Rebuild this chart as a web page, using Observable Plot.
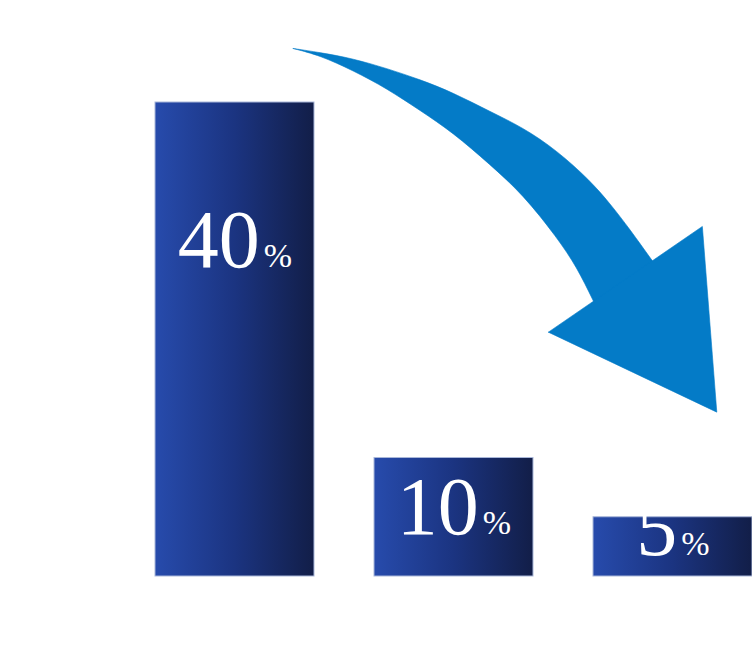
<!DOCTYPE html>
<html>
<head>
<meta charset="utf-8">
<script src="https://cdn.jsdelivr.net/npm/d3@7"></script>
<script src="https://cdn.jsdelivr.net/npm/@observablehq/plot@0.6"></script>
<style>
  html, body { margin: 0; padding: 0; background: #ffffff; overflow: hidden; }
  #chart svg { display: block; }
</style>
</head>
<body>
<div id="chart"></div>
<script>
// ---- data ----
const categories = ["1", "2", "3"];
const values = [40, 10, 5];
const valueLabels = ["40", "10", "5"];
const unitLabel = "%";
// label baseline levels (in value units)
const labelLevels = [26.1, 3.6, 1.8];

// decorative arrow outline, in chart units (x: bar slot, y: percent)
// outer edge (tail -> head), then inner edge (head -> tail)
const shaftX = [0.265, 0.265, 0.388, 0.539, 0.694, 0.845, 0.995, 1.164, 1.315, 1.470, 1.621, 1.712, 1.804, 1.904, 1.959, 1.959, 1.959,
                1.676, 1.676, 1.676, 1.635, 1.562, 1.470, 1.315, 1.164, 0.995, 0.845, 0.694, 0.539, 0.388, 0.265, 0.265];
const shaftY = [44.56, 44.56, 44.22, 43.71, 42.87, 41.94, 40.84, 39.24, 37.89, 35.95, 33.42, 31.48, 29.28, 26.67, 25.32, 25.32, 25.32,
                21.77, 21.77, 21.77, 23.29, 26.08, 28.61, 32.24, 34.77, 37.47, 39.33, 41.18, 42.70, 43.97, 44.56, 44.56];
const headX = [1.431, 2.134, 2.200, 1.431];
const headY = [20.62, 29.54, 13.87, 20.62];

// ---- build ----
const bars = categories.map((c, i) => ({category: c, index: i, value: values[i], label: valueLabels[i], level: labelLevels[i]}));
const shaft = shaftX.map((x, i) => ({x, y: shaftY[i]}));
const head = headX.map((x, i) => ({x, y: headY[i]}));

const halfBar = 0.363;
const arrowColor = "#047bc7";
const numSize = 82, pctSize = 34, gap = 4;

const gradientDefs = () => {
  const ns = "http://www.w3.org/2000/svg";
  const defs = document.createElementNS(ns, "defs");
  const g = document.createElementNS(ns, "linearGradient");
  g.setAttribute("id", "barGrad");
  g.setAttribute("x1", "0"); g.setAttribute("x2", "1");
  g.setAttribute("y1", "0"); g.setAttribute("y2", "0");
  [["0%", "#274bac"], ["50%", "#1b3481"], ["100%", "#121e48"]].forEach(([o, c]) => {
    const s = document.createElementNS(ns, "stop");
    s.setAttribute("offset", o);
    s.setAttribute("stop-color", c);
    g.appendChild(s);
  });
  defs.appendChild(g);
  return defs;
};

const labelMarks = bars.flatMap(d => {
  const numW = 0.5 * numSize * d.label.length;
  const pctW = 0.833 * pctSize;
  const dxNum = (numW - pctW - gap) / 2;
  return [
    Plot.text([d], {x: "index", y: "level", text: "label", textAnchor: "end", lineAnchor: "bottom",
      dx: dxNum, fill: "white", fontSize: numSize, fontFamily: "Liberation Serif"}),
    Plot.text([d], {x: "index", y: "level", text: () => unitLabel, textAnchor: "start", lineAnchor: "bottom",
      dx: dxNum + gap, fill: "white", fontSize: pctSize, fontFamily: "Liberation Serif"})
  ];
});

const chart = Plot.plot({
  width: 752,
  height: 653,
  marginLeft: 155,
  marginRight: 0,
  marginTop: 102,
  marginBottom: 77,
  x: {type: "linear", domain: [-halfBar, 2 + halfBar], axis: null},
  y: {domain: [0, 40], axis: null},
  style: {background: "white"},
  marks: [
    gradientDefs,
    Plot.rectY(bars, {x1: d => d.index - halfBar, x2: d => d.index + halfBar, y1: 0, y2: "value",
      fill: "url(#barGrad)", stroke: "#a9b7d9", strokeWidth: 1}),
    ...labelMarks,
    Plot.line(shaft, {x: "x", y: "y", curve: "basis", fill: arrowColor, stroke: arrowColor, strokeWidth: 0.6}),
    Plot.line(head, {x: "x", y: "y", curve: "linear", fill: arrowColor, stroke: arrowColor, strokeWidth: 0.6})
  ]
});

document.getElementById("chart").appendChild(chart);
</script>
</body>
</html>
